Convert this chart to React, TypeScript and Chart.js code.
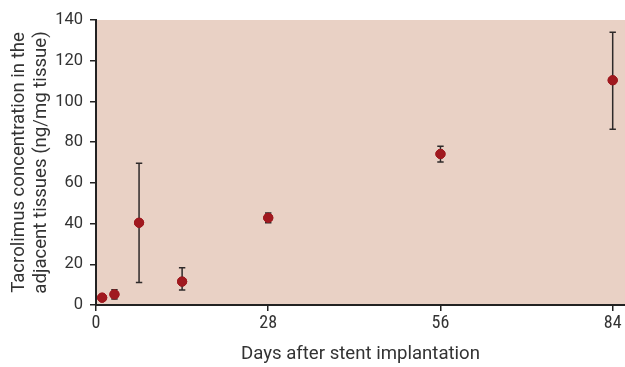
import React, { useEffect, useRef } from "react";
import { Chart, registerables } from "chart.js";

Chart.register(...registerables);

const days = [1, 3, 7, 14, 28, 56, 84];
const means = [3.6, 5.2, 40.4, 11.5, 42.8, 74.2, 110.4];
const upper = [4.4, 7.5, 69.6, 18.3, 45.2, 78.0, 134.0];
const lower = [2.8, 2.9, 11.1, 7.4, 40.4, 70.3, 86.3];
const xTicks = [0, 28, 56, 84];

const COND = "'Roboto Condensed', 'DejaVu Sans Condensed', sans-serif";
const REG = "Roboto, 'Liberation Sans', sans-serif";

const bgPlugin = {
  id: "bgFill",
  beforeDraw(chart: any) {
    const { ctx, chartArea } = chart;
    ctx.save();
    ctx.fillStyle = "#E9D1C5";
    ctx.fillRect(chartArea.left, chartArea.top, chartArea.right - chartArea.left, chartArea.bottom - chartArea.top);
    ctx.restore();
  },
};

const errPlugin = {
  id: "errBars",
  afterDatasetsDraw(chart: any) {
    const { ctx, scales } = chart;
    const xs = scales.x;
    const ys = scales.y;
    ctx.save();
    ctx.strokeStyle = "#2e2a2a";
    ctx.lineWidth = 1.5;
    for (let i = 0; i < days.length; i++) {
      const x = xs.getPixelForValue(days[i]);
      const yt = ys.getPixelForValue(upper[i]);
      const yb = ys.getPixelForValue(lower[i]);
      ctx.beginPath();
      ctx.moveTo(x, yt);
      ctx.lineTo(x, yb);
      ctx.moveTo(x - 3.2, yt);
      ctx.lineTo(x + 3.2, yt);
      ctx.moveTo(x - 3.2, yb);
      ctx.lineTo(x + 3.2, yb);
      ctx.stroke();
    }
    ctx.restore();
    const meta = chart.getDatasetMeta(0);
    meta.data.forEach((el: any) => el.draw(ctx, chart.chartArea));
  },
};

export default function App() {
  const ref = useRef<HTMLCanvasElement | null>(null);
  useEffect(() => {
    document.body.style.margin = "0";
    const canvas = ref.current!;
    const chart = new Chart(canvas, {
      type: "scatter",
      data: {
        datasets: [
          {
            data: days.map((d, i) => ({ x: d, y: means[i] })),
            backgroundColor: "#A0191F",
            borderColor: "#A0191F",
            pointRadius: 4.6,
            pointHoverRadius: 4.6,
          },
        ],
      },
      options: {
        animation: false,
        responsive: false,
        maintainAspectRatio: false,
        layout: { autoPadding: false, padding: { top: 20, right: 0, left: 0, bottom: 0 } },
        plugins: { legend: { display: false }, tooltip: { enabled: false } },
        scales: {
          x: {
            type: "linear",
            min: 0,
            max: 86,
            afterBuildTicks(scale: any) {
              scale.ticks = xTicks.map((v) => ({ value: v }));
            },
            afterFit(scale: any) {
              scale.height = 62;
              scale.paddingRight = 0;
              scale.paddingLeft = 0;
            },
            grid: { display: true, drawOnChartArea: false, drawTicks: true, tickLength: 6, color: "#222", lineWidth: 1.5 },
            border: { display: true, color: "#222", width: 2 },
            ticks: { color: "#333", font: { family: COND, size: 18 }, padding: 2, maxRotation: 0, autoSkip: false },
            title: {
              display: true,
              text: "Days after stent implantation",
              color: "#333",
              font: { family: REG, size: 18.6 },
              padding: { top: 0, bottom: 1.5 },
            },
          },
          y: {
            min: 0,
            max: 140,
            afterFit(scale: any) {
              scale.width = 96;
              scale.paddingTop = 0;
              scale.paddingBottom = 0;
            },
            grid: { display: true, drawOnChartArea: false, drawTicks: true, tickLength: 6, color: "#222", lineWidth: 1.5 },
            border: { display: true, color: "#222", width: 2 },
            ticks: { stepSize: 20, color: "#333", font: { family: REG, size: 16.5 }, padding: 7 },
            title: {
              display: true,
              text: ["Tacrolimus concentration in the", "adjacent tissues (ng/mg tissue)"],
              color: "#333",
              font: { family: REG, size: 18.6, lineHeight: 1.22 },
              padding: { top: 7.5, bottom: 0 },
            },
          },
        },
      },
      plugins: [bgPlugin, errPlugin],
    });
    return () => chart.destroy();
  }, []);
  return <canvas ref={ref} width={625} height={367} style={{ display: "block" }} />;
}
